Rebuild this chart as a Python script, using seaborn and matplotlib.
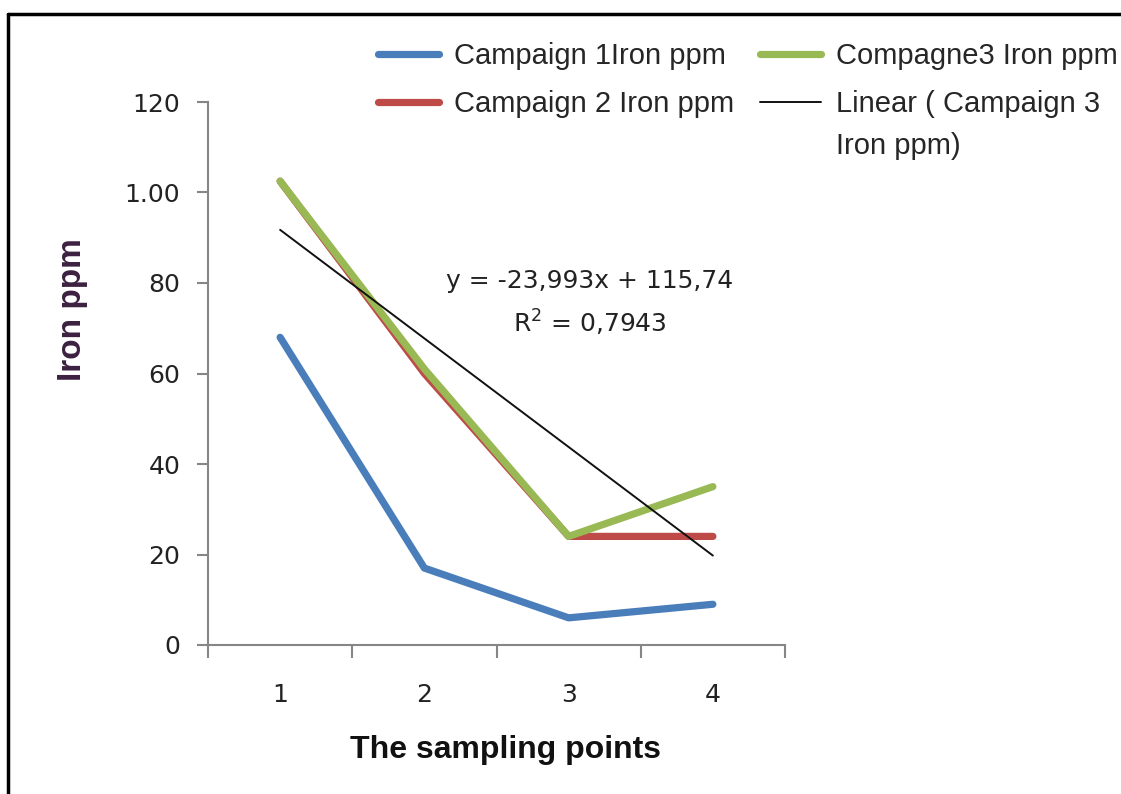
import matplotlib
matplotlib.use("Agg")
import matplotlib.pyplot as plt
from matplotlib.lines import Line2D
import seaborn as sns
import numpy as np

# ---- data ----
sampling_points = [1, 2, 3, 4]
campaign1 = [68, 17, 6, 9]
campaign2 = [102.5, 60, 24, 24]
campaign3 = [102.5, 61, 24, 35]
trend_slope = -23.993
trend_intercept = 115.74
y_ticks = [0, 20, 40, 60, 80, 100, 120]
y_tick_labels = ["0", "20", "40", "60", "80", "1.00", "120"]
labels = ["Campaign 1Iron ppm", "Campaign 2 Iron ppm", "Compagne3 Iron ppm",
          "Linear ( Campaign 3"]
linear_label_cont = "Iron ppm)"

sns.set_theme(style="white")
plt.rcParams["font.family"] = ["Liberation Sans", "DejaVu Sans"]

fig = plt.figure(figsize=(11.21, 7.94), dpi=100)
ax = fig.add_axes([208/1121, 1-645/794, 577/1121, 543/794])

c_blue = "#4a7ebb"
c_red = "#be4b48"
c_green = "#98b954"

sns.lineplot(x=sampling_points, y=campaign1, color=c_blue, lw=5.2, ax=ax,
             label=labels[0], solid_capstyle="round", solid_joinstyle="round")
sns.lineplot(x=sampling_points, y=campaign2, color=c_red, lw=5.2, ax=ax,
             label=labels[1], solid_capstyle="round", solid_joinstyle="round")
sns.lineplot(x=sampling_points, y=campaign3, color=c_green, lw=5.2, ax=ax,
             label=labels[2], solid_capstyle="round", solid_joinstyle="round")
xs = np.array(sampling_points, dtype=float)
ax.plot(xs, trend_slope * xs + trend_intercept, color="#111111", lw=1.4,
        label=labels[3])

ax.set_xlim(0.5, 4.5)
ax.set_ylim(0, 120)

# axes styling
for s in ["top", "right"]:
    ax.spines[s].set_visible(False)
for s in ["left", "bottom"]:
    ax.spines[s].set_color("#868686")
    ax.spines[s].set_linewidth(1.5)

tick_font = {"family": ["DejaVu Sans"], "size": 18}
ax.set_xticks([0.5, 1.5, 2.5, 3.5, 4.5])
ax.set_xticklabels([])
ax.set_xticks(sampling_points, minor=True)
ax.set_xticklabels([str(p) for p in sampling_points], minor=True,
                   fontdict=tick_font, color="#222222")
ax.tick_params(axis="x", which="major", direction="out", length=9, width=1.5,
               color="#868686", bottom=True)
ax.tick_params(axis="x", which="minor", length=0, pad=27, bottom=True)
ax.set_yticks(y_ticks)
ax.set_yticklabels(y_tick_labels, fontdict=tick_font, color="#222222")
ax.tick_params(axis="y", direction="out", length=8, width=1.5,
               color="#868686", pad=12, left=True)

ax.set_xlabel("The sampling points", fontsize=23, fontweight="bold",
              color="#111111")
ax.xaxis.set_label_coords((505-208)/577, -(735-645)/543)
ax.set_ylabel("Iron ppm", fontsize=24, fontweight="bold", color="#3b2040")
ax.yaxis.set_label_coords((88-208)/577, (645-310)/543)

ax.text(3.148, 80.5, "y = -23,993x + 115,74", ha="center", va="center",
        fontsize=18, color="#222222", family="DejaVu Sans")
ax.text(3.148, 71.2, "R$^2$ = 0,7943", ha="center", va="center",
        fontsize=18, color="#222222", family="DejaVu Sans")

legend_prop = {"family": ["Liberation Sans Narrow", "Liberation Sans"], "size": 21}
handles, labs = ax.get_legend_handles_labels()
leg = ax.legend(handles, labs, ncol=2, frameon=False,
                loc="upper left", bbox_to_anchor=(378/1121, 1-42/794),
                bbox_transform=fig.transFigure,
                handlelength=2.1, columnspacing=0.9, labelspacing=0.7,
                handletextpad=0.5, borderaxespad=0, borderpad=0,
                prop=legend_prop)

# continuation line of the trend-line legend label, placed under its first line
fig.canvas.draw()
bb = leg.get_texts()[3].get_window_extent(renderer=fig.canvas.get_renderer())
bb_fig = bb.transformed(fig.transFigure.inverted())
fig.text(bb_fig.x0, bb_fig.y0 - 14/794, linear_label_cont, ha="left", va="top",
         fontproperties=matplotlib.font_manager.FontProperties(**legend_prop),
         color=leg.get_texts()[3].get_color())

# outer frame (left and top border)
fig.add_artist(Line2D([8/1121, 8/1121], [0, 1-14/794], transform=fig.transFigure,
                      color="black", lw=2.5))
fig.add_artist(Line2D([8/1121, 1], [1-14/794, 1-14/794], transform=fig.transFigure,
                      color="black", lw=2.5))

fig.savefig("out.png", dpi=100)
